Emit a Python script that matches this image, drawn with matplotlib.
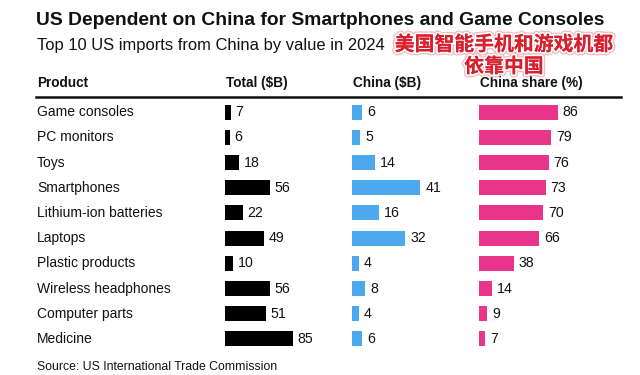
import matplotlib.pyplot as plt
import matplotlib.transforms as mtransforms
import matplotlib.patheffects as pe

products = ["Game consoles", "PC monitors", "Toys", "Smartphones", "Lithium-ion batteries",
            "Laptops", "Plastic products", "Wireless headphones", "Computer parts", "Medicine"]
total_b = [7, 6, 18, 56, 22, 49, 10, 56, 51, 85]
china_b = [6, 5, 14, 41, 16, 32, 4, 8, 4, 6]
china_share = [86, 79, 76, 73, 70, 66, 38, 14, 9, 7]

W, H = 640, 375
fig = plt.figure(figsize=(6.4, 3.75), dpi=100)
fig.patch.set_facecolor("white")
plt.rcParams["font.family"] = ["Liberation Sans", "DejaVu Sans"]


def px(x, y, w, h):
    # pixel box (from top-left) -> figure fraction rect
    return [x / W, 1 - (y + h) / H, w / W, h / H]


top, row_h = 99.5, 25.2
n = len(products)
columns = [
    (total_b, 225, 120, 150, "#000000", "Total ($B)"),
    (china_b, 352, 120, 72, "#4da9ee", "China ($B)"),
    (china_share, 479, 140, 153, "#e8348b", "China share (%)"),
]

axes = []
for vals, x0, w, xmax, color, header in columns:
    ax = fig.add_axes(px(x0, top, w, row_h * n))
    ax.barh(range(n), vals, height=0.6, color=color, left=0)
    ax.set_xlim(0, xmax)
    ax.set_ylim(n - 0.5, -0.5)
    ax.axis("off")
    for i, v in enumerate(vals):
        ax.annotate(str(v), (v, i), xytext=(3.5, 0), textcoords="offset points",
                    va="center", ha="left", fontsize=10.2, color="#111111")
    fig.text((x0 + 1) / W, 1 - 83 / H, header, fontsize=9.8, fontweight="bold",
             va="center", ha="left", color="#111111")
    axes.append(ax)

# product labels
trans = mtransforms.blended_transform_factory(fig.transFigure, axes[0].transData)
for i, p in enumerate(products):
    axes[0].text(37 / W, i, p, transform=trans, fontsize=10, va="center", ha="left",
                 color="#111111")
fig.text(37 / W, 1 - 83 / H, "Product", fontsize=9.8, fontweight="bold",
         va="center", ha="left", color="#111111")

# header rule
fig.add_artist(plt.Line2D([36 / W, 621 / W], [1 - 97 / H, 1 - 97 / H],
                          color="#111111", linewidth=1.8))

fig.text(36 / W, 1 - 20.5 / H, "US Dependent on China for Smartphones and Game Consoles",
         fontsize=13.9, fontweight="bold", va="center", ha="left", color="#111111")
fig.text(37 / W, 1 - 45.5 / H, "Top 10 US imports from China by value in 2024",
         fontsize=11.9, va="center", ha="left", color="#111111")
fig.text(37 / W, 1 - 367 / H, "Source: US International Trade Commission",
         fontsize=8.8, va="center", ha="left", color="#111111")

effects = [pe.withStroke(linewidth=4.5, foreground="#f3c0c4"),
           pe.withStroke(linewidth=2.5, foreground="white"), pe.Normal()]
for txt, y in [("美国智能手机和游戏机都", 44), ("依靠中国", 66)]:
    fig.text(504 / W, 1 - y / H, txt, fontsize=14.3, fontweight="bold",
             family=["Noto Sans CJK SC", "DejaVu Sans"], color="#d8202f",
             va="center", ha="center", path_effects=effects)

fig.savefig("out.png", dpi=100, facecolor="white")
